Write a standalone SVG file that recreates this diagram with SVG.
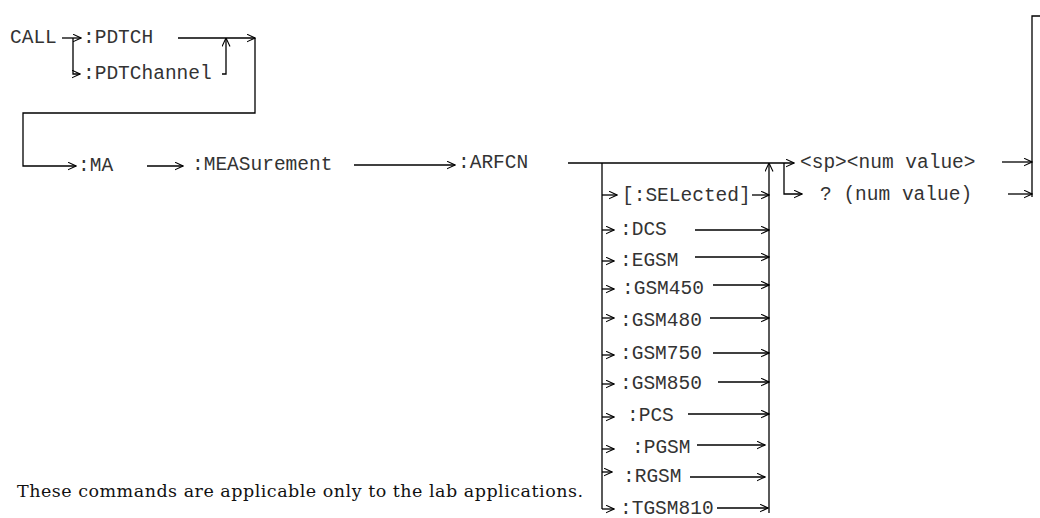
<svg xmlns="http://www.w3.org/2000/svg" width="1040" height="518" viewBox="0 0 1040 518">
<defs>
<marker id="a" viewBox="0 0 9 9" refX="8.5" refY="4.5" markerWidth="9" markerHeight="9" markerUnits="userSpaceOnUse" orient="auto">
<path d="M0,0.5 L8.5,4.5 L0,8.5" fill="none" stroke="#000" stroke-width="1.1"/>
</marker>
<style>
.m{font-family:"Liberation Mono","Courier New",monospace;font-size:19.5px;fill:#333}
.s{font-family:"DejaVu Serif","Liberation Serif",serif;font-size:17.5px;fill:#111}
.c line,.c polyline{stroke:#000;stroke-width:1.3;fill:none}
.ar{marker-end:url(#a)}
</style>
</defs>
<rect width="1040" height="518" fill="#fff"/>
<g id="n-call"><text class="m" x="10" y="43">CALL</text></g>
<g id="n-pdtch"><text class="m" x="83" y="43">:PDTCH</text></g>
<g id="n-pdtchannel"><text class="m" x="83" y="79">:PDTChannel</text></g>
<g id="n-ma"><text class="m" x="78" y="171">:MA</text></g>
<g id="n-meas"><text class="m" x="192" y="170">:MEASurement</text></g>
<g id="n-arfcn"><text class="m" x="458" y="168">:ARFCN</text></g>
<g id="n-selected"><text class="m" x="622" y="201">[:SELected]</text></g>
<g id="n-dcs"><text class="m" x="620" y="235">:DCS</text></g>
<g id="n-egsm"><text class="m" x="620" y="266">:EGSM</text></g>
<g id="n-gsm450"><text class="m" x="622" y="294">:GSM450</text></g>
<g id="n-gsm480"><text class="m" x="620" y="326">:GSM480</text></g>
<g id="n-gsm750"><text class="m" x="620" y="359">:GSM750</text></g>
<g id="n-gsm850"><text class="m" x="620" y="389">:GSM850</text></g>
<g id="n-pcs"><text class="m" x="627" y="421">:PCS</text></g>
<g id="n-pgsm"><text class="m" x="632" y="453">:PGSM</text></g>
<g id="n-rgsm"><text class="m" x="623" y="482">:RGSM</text></g>
<g id="n-tgsm810"><text class="m" x="620" y="514">:TGSM810</text></g>
<g id="n-sp"><text class="m" x="800" y="168">&lt;sp&gt;&lt;num value&gt;</text></g>
<g id="n-query"><text class="m" x="820" y="200">? (num value)</text></g>
<g id="n-note"><text class="s" x="17" y="497" textLength="566" lengthAdjust="spacing">These commands are applicable only to the lab applications.</text></g>
<g id="connectors" class="c">
<line class="ar" x1="62" y1="38" x2="81" y2="38"/>
<polyline class="ar" points="73,38 73,74 80,74"/>
<line class="ar" x1="178" y1="38" x2="255" y2="38"/>
<polyline class="ar" points="222,74 226,74 226,38"/>
<polyline class="ar" points="255,38 255,113 23,113 23,166 76,166"/>
<line class="ar" x1="147" y1="166" x2="183" y2="166"/>
<line class="ar" x1="354" y1="165" x2="455" y2="165"/>
<line class="ar" x1="568" y1="163" x2="794" y2="163"/>
<line x1="602" y1="163" x2="602" y2="509"/>
<line class="ar" x1="769" y1="513" x2="769" y2="163"/>
<polyline class="ar" points="784,163 784,194 802,194"/>
<line class="ar" x1="1002" y1="162" x2="1032" y2="162"/>
<line class="ar" x1="1008" y1="194" x2="1032" y2="194"/>
<polyline points="1032,197 1032,16 1040,16"/>
<line class="ar" x1="602" y1="195" x2="617" y2="195"/>
<line class="ar" x1="752" y1="195" x2="769" y2="195"/>
<line class="ar" x1="602" y1="230" x2="614" y2="230"/>
<line class="ar" x1="695" y1="230" x2="769" y2="230"/>
<line class="ar" x1="602" y1="261" x2="614" y2="261"/>
<line class="ar" x1="695" y1="257" x2="769" y2="257"/>
<line class="ar" x1="602" y1="289" x2="614" y2="289"/>
<line class="ar" x1="713" y1="285" x2="769" y2="285"/>
<line class="ar" x1="602" y1="318" x2="614" y2="318"/>
<line class="ar" x1="710" y1="318" x2="769" y2="318"/>
<line class="ar" x1="602" y1="355" x2="614" y2="355"/>
<line class="ar" x1="713" y1="353" x2="769" y2="353"/>
<line class="ar" x1="602" y1="384" x2="614" y2="384"/>
<line class="ar" x1="718" y1="382" x2="769" y2="382"/>
<line class="ar" x1="602" y1="417" x2="614" y2="417"/>
<line class="ar" x1="688" y1="414" x2="769" y2="414"/>
<line class="ar" x1="602" y1="449" x2="614" y2="449"/>
<line class="ar" x1="697" y1="445" x2="765" y2="445"/>
<line class="ar" x1="602" y1="472" x2="612" y2="472"/>
<line class="ar" x1="690" y1="477" x2="765" y2="477"/>
<polyline class="ar" points="602,509 614,509"/>
<line class="ar" x1="717" y1="508" x2="768" y2="508"/>
</g>
</svg>
